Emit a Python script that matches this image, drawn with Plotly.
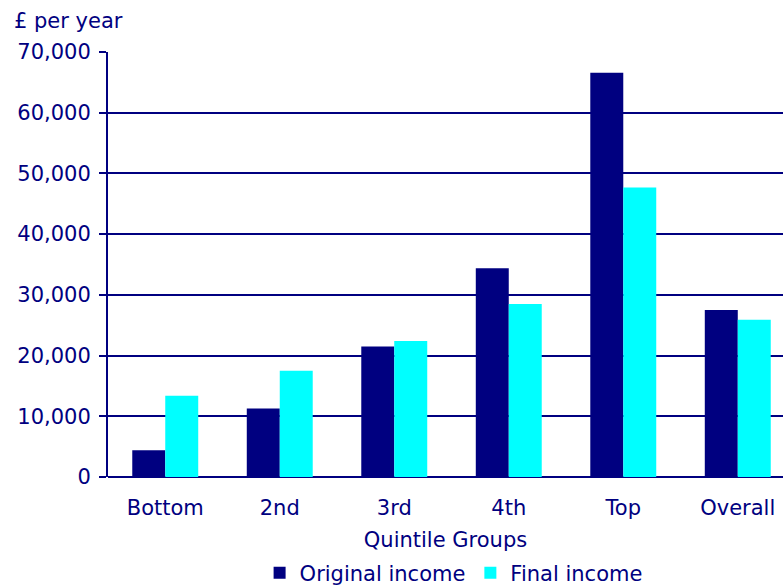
import plotly.graph_objects as go

categories = ["Bottom", "2nd", "3rd", "4th", "Top", "Overall"]
original_income = [4400, 11300, 21500, 34400, 66600, 27500]
final_income = [13400, 17500, 22400, 28500, 47700, 25900]
y_ticks = [0, 10000, 20000, 30000, 40000, 50000, 60000, 70000]
y_tick_labels = ["0", "10,000", "20,000", "30,000", "40,000", "50,000", "60,000", "70,000"]

NAVY = "#000080"
CYAN = "#00FFFF"
FONT = "DejaVu Sans"
FS = 21

fig = go.Figure()
fig.add_trace(go.Bar(name="Original income", x=categories, y=original_income,
                     marker=dict(color=NAVY, line=dict(width=0))))
fig.add_trace(go.Bar(name="Final income", x=categories, y=final_income,
                     marker=dict(color=CYAN, line=dict(width=0))))

fig.update_layout(
    width=783, height=585,
    margin=dict(l=108, r=0, t=52, b=108, autoexpand=False),
    paper_bgcolor="white", plot_bgcolor="white",
    barmode="group", bargap=0.424, bargroupgap=0,
    font=dict(family=FONT, size=FS, color=NAVY),
    showlegend=True,
    legend=dict(orientation="h", xref="paper", x=0.512, xanchor="center",
                yref="container", y=(585 - 573) / 585, yanchor="middle",
                font=dict(family=FONT, size=FS, color=NAVY),
                itemwidth=30, tracegroupgap=0, bgcolor="rgba(0,0,0,0)"),
    xaxis=dict(range=[-0.5, 5.395], showgrid=False, showline=False, ticks="",
               zeroline=False, automargin=False,
               tickfont=dict(family=FONT, size=FS, color=NAVY),
               ticklabelstandoff=16,
               title=dict(text="Quintile Groups", font=dict(family=FONT, size=FS, color=NAVY),
                          standoff=20)),
    yaxis=dict(range=[0, 70000], tickvals=y_ticks, ticktext=y_tick_labels,
               showgrid=True, gridcolor=NAVY, gridwidth=2, automargin=False,
               showline=True, linecolor=NAVY, linewidth=2,
               ticks="outside", ticklen=7, tickcolor=NAVY, tickwidth=2,
               zeroline=True, zerolinecolor=NAVY, zerolinewidth=2,
               tickfont=dict(family=FONT, size=FS, color=NAVY),
               ticklabelstandoff=4),
    annotations=[dict(text="£ per year", xref="paper", yref="paper",
                      x=(12 - 108) / 675, y=1 + (52 - 21) / 425,
                      xanchor="left", yanchor="middle", showarrow=False,
                      font=dict(family=FONT, size=FS, color=NAVY))],
)

fig.write_html("out.html")
